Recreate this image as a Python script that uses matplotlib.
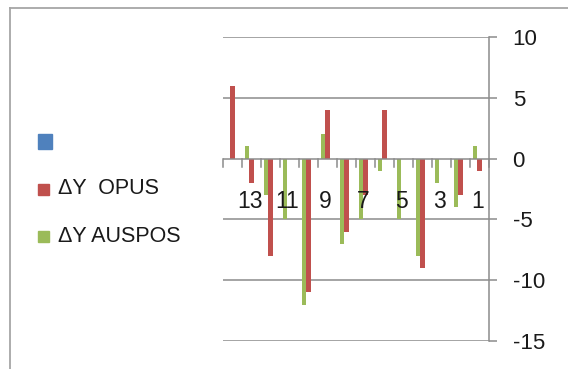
import matplotlib
matplotlib.use('Agg')
import matplotlib.pyplot as plt
from matplotlib.lines import Line2D
from matplotlib.patches import Rectangle
import numpy as np

# point numbers 1..14 (axis is drawn reversed, 14 on the left)
points = np.arange(1, 15)
dy_opus = [-1, -3, 0, -9, 0, 4, -3, -6, 4, -11, 0, -8, -2, 6]
dy_auspos = [1, -4, -2, -8, -5, -1, -5, -7, 2, -12, -5, -3, 1, 0]
shown_labels = [13, 11, 9, 7, 5, 3, 1]
y_ticks = [10, 5, 0, -5, -10, -15]

red = '#C0504D'
green = '#9BBB59'
blue = '#4F81BD'
grey = '#8C8C8C'

W, H = 568, 369
fig = plt.figure(figsize=(W / 100, H / 100), dpi=100)
plt.rcParams['font.family'] = ['Liberation Sans', 'DejaVu Sans']

# chart area border (left and top only visible)
fig.add_artist(Line2D([10 / W, 10 / W], [0, 1 - 8 / H], transform=fig.transFigure,
                      color='#A6A6A6', lw=1.3))
fig.add_artist(Line2D([10 / W, 1], [1 - 8 / H, 1 - 8 / H], transform=fig.transFigure,
                      color='#A6A6A6', lw=1.3))

left, right, top, bottom = 223, 489, 37, 341
ax = fig.add_axes([left / W, 1 - bottom / H, (right - left) / W, (bottom - top) / H])

w = 0.24
ax.bar(points, dy_opus, width=w, color=red, zorder=3)
ax.bar(points + w, dy_auspos, width=w, color=green, zorder=3)

ax.set_xlim(14.5, 0.5)
ax.set_ylim(-15, 10)

for s in ['left', 'top']:
    ax.spines[s].set_visible(False)
ax.spines['bottom'].set_visible(False)
ax.spines['right'].set_color(grey)
ax.spines['right'].set_linewidth(1.1)

# horizontal gridlines extending through the outer ticks
for v in y_ticks:
    if v == 0:
        continue
    ax.axhline(v, color=grey, lw=1.1, zorder=1)

ax.yaxis.tick_right()
ax.set_yticks(y_ticks)
ax.set_yticklabels([str(v) for v in y_ticks])
ax.tick_params(axis='y', direction='out', length=6, width=1.1, color=grey,
               pad=11, labelsize=16, labelcolor='#1a1a1a')

# category axis along y = 0
ax.axhline(0, color=grey, lw=1.1, zorder=4)
ax.set_xticks([])
for b in np.arange(0.5, 15, 1.0):
    ax.plot([b, b], [0, -0.65], color=grey, lw=1.1, zorder=4, clip_on=False)
for p in shown_labels:
    ax.text(p + 0.1, -3.5, str(p), ha='center', va='center', fontsize=16.5,
            color='#1a1a1a', zorder=5)

# legend drawn by hand to mimic the layout
fig.add_artist(Rectangle((38 / W, 1 - 149 / H), 14 / W, 15 / H,
                         transform=fig.transFigure, color=blue))
fig.add_artist(Rectangle((38 / W, 1 - 195 / H), 11 / W, 11 / H,
                         transform=fig.transFigure, color=red))
fig.add_artist(Rectangle((38 / W, 1 - 242 / H), 11 / W, 11 / H,
                         transform=fig.transFigure, color=green))
fig.text(58 / W, 1 - 189 / H, '\u0394Y  OPUS', fontsize=15.5, va='center',
         color='#1a1a1a')
fig.text(58 / W, 1 - 236 / H, '\u0394Y AUSPOS', fontsize=15.5, va='center',
         color='#1a1a1a')

fig.savefig('out.png', dpi=100)
